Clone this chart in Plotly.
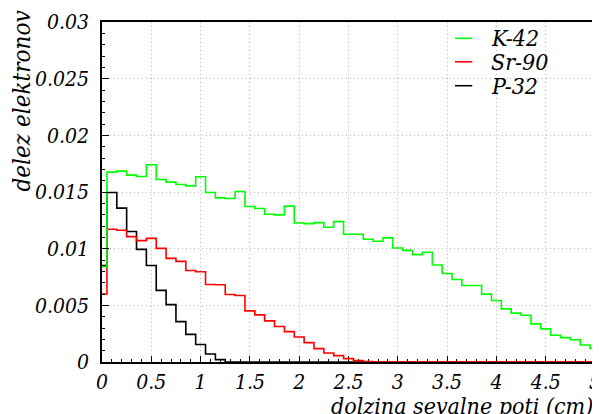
import numpy as np
import plotly.graph_objects as go

# ---- data ----
bin_width = 0.1
bin_centers = [round(0.1 * i, 1) for i in range(51)]  # cm

k42 = [0.0084, 0.01675, 0.01684, 0.01649, 0.01637, 0.0174, 0.0161, 0.01587, 0.01566, 0.01554,
       0.01634, 0.01496, 0.01448, 0.01442, 0.01504, 0.01372, 0.01354, 0.01304, 0.01298, 0.01375,
       0.01227, 0.01221, 0.0123, 0.01189, 0.01239, 0.01127, 0.01127, 0.01083, 0.01065, 0.01095,
       0.01006, 0.00985, 0.00947, 0.00968, 0.00856, 0.00781, 0.00728, 0.00675, 0.00675, 0.00599,
       0.00543, 0.00469, 0.00431, 0.00413, 0.00336, 0.00292, 0.00236, 0.00215, 0.00196, 0.00150,
       0.00120]
sr90 = [0.0060, 0.01171, 0.01162, 0.01106, 0.01071, 0.01091, 0.01003, 0.00914, 0.00888, 0.00808,
        0.00796, 0.00684, 0.00681, 0.00596, 0.00587, 0.00451, 0.00416, 0.00363, 0.00313, 0.00268,
        0.00221, 0.00171, 0.00118, 0.00080, 0.00056, 0.00030, 0.00012, 0.00003] + [0.0] * 23
p32 = [0.0085, 0.01496, 0.01358, 0.01152, 0.00994, 0.00852, 0.00632, 0.00506, 0.00356, 0.00244,
       0.00155, 0.00070, 0.00021] + [0.0] * 38

series_names = ["K-42", "Sr-90", "P-32"]
series_colors = ["#00ff00", "#ff0000", "#000000"]

y_tickvals = [0, 0.005, 0.01, 0.015, 0.02, 0.025, 0.03]
y_ticktext = ["0", "0.005", "0.01", "0.015", "0.02", "0.025", "0.03"]
x_tickvals = [0, 0.5, 1, 1.5, 2, 2.5, 3, 3.5, 4, 4.5, 5]
x_ticktext = ["0", "0.5", "1", "1.5", "2", "2.5", "3", "3.5", "4", "4.5", "5"]

x_title = "dolzina sevalne poti (cm)"
y_title = "delez elektronov"

FONT = "DejaVu Serif Condensed, DejaVu Serif"
FS = 21
x_max = 5.0


def step_xy(values):
    c = np.array(bin_centers)
    left = np.clip(c - bin_width / 2, 0, x_max)
    xs = list(left) + [x_max]
    ys = list(values) + [values[-1]]
    return xs, ys


def tfont(size=FS):
    return dict(family=FONT, size=size, color="black", style="italic")


fig = go.Figure()
series = {"K-42": k42, "Sr-90": sr90, "P-32": p32}
color_of = dict(zip(series_names, series_colors))
for name in ["P-32", "Sr-90", "K-42"]:
    xs, ys = step_xy(series[name])
    fig.add_trace(go.Scatter(x=xs, y=ys, mode="lines", line_shape="hv", name=name,
                             line=dict(color=color_of[name], width=1.6), showlegend=False))

axis_common = dict(
    showline=True, linecolor="black", linewidth=1.5, mirror=True,
    showgrid=True, gridcolor="#b8b8b8", griddash="1px,3px", gridwidth=1,
    zeroline=False, ticks="inside", tickcolor="black", automargin=False,
    tickfont=tfont(), ticklabeloverflow="allow",
)

fig.update_xaxes(range=[0, x_max], tickvals=x_tickvals, ticktext=x_ticktext,
                 ticklen=6, tickwidth=1,
                 minor=dict(dtick=0.1, ticklen=3, ticks="inside", tickcolor="black", showgrid=False),
                 layer="below traces", **axis_common)
fig.update_yaxes(range=[0, 0.03], tickvals=y_tickvals, ticktext=y_ticktext,
                 ticklen=7, tickwidth=1, ticklabelstandoff=7,
                 minor=dict(dtick=0.001, ticklen=3, ticks="inside", tickcolor="black", showgrid=False),
                 **axis_common)

annotations = [
    dict(text=x_title, xref="paper", yref="paper", x=1.0, y=-0.13, xanchor="right",
         yanchor="middle", showarrow=False, font=tfont(23)),
    dict(text=y_title, xref="paper", yref="paper", x=-0.163, y=1.04, xanchor="center",
         yanchor="top", textangle=-90, showarrow=False, font=tfont(24)),
]
shapes = []
leg_y = [0.952, 0.883, 0.8126]
for name, yy in zip(series_names, leg_y):
    shapes.append(dict(type="line", xref="paper", yref="paper", x0=0.716, x1=0.751, y0=yy, y1=yy,
                       line=dict(color=color_of[name], width=1.6)))
    annotations.append(dict(text=name, xref="paper", yref="paper", x=0.785, y=yy, xanchor="left",
                            yanchor="middle", showarrow=False, font=tfont(23)))

# page body has an 8px margin, so the figure is drawn 8px in from the top-left
fig.update_layout(
    width=592, height=406,
    margin=dict(l=94, r=5, t=14, b=52, autoexpand=False),
    paper_bgcolor="white", plot_bgcolor="white",
    annotations=annotations, shapes=shapes,
    showlegend=False,
)

fig.write_html("out.html")
